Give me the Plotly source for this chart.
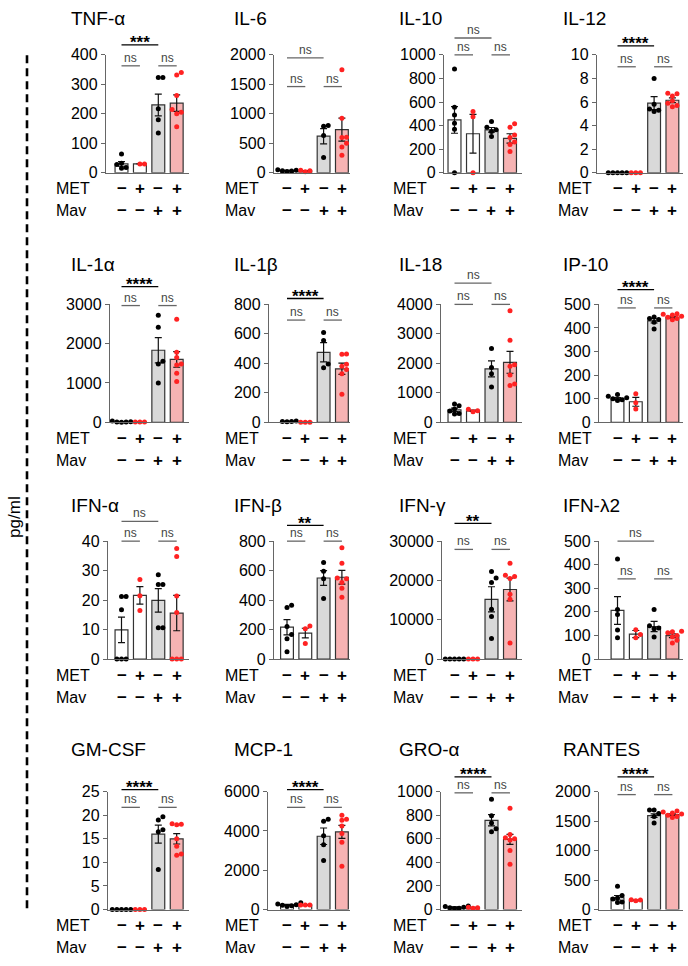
import plotly.graph_objects as go

# ---- data ----
cytokines = ["TNF-α", "IL-6", "IL-10", "IL-12",
             "IL-1α", "IL-1β", "IL-18", "IP-10",
             "IFN-α", "IFN-β", "IFN-γ", "IFN-λ2",
             "GM-CSF", "MCP-1", "GRO-α", "RANTES"]
y_max = [400, 2000, 1000, 10, 3000, 800, 4000, 500, 40, 800, 30000, 500, 25, 6000, 1000, 2000]
y_step = [100, 500, 200, 2, 1000, 200, 1000, 100, 10, 200, 10000, 100, 5, 2000, 200, 500]

# bar order: MET-/Mav-, MET+/Mav-, MET-/Mav+, MET+/Mav+
bar_means = [
    [30, 30, 230, 236], [35, 30, 620, 730], [448, 331, 364, 291], [0, 0, 5.9, 6.15],
    [12, 5, 1833, 1600], [5, 2, 475, 363], [422, 389, 1811, 2033], [101, 87, 430, 445],
    [9.9, 21.6, 19.9, 15.6], [216, 176, 550, 555], [50, 20, 15200, 17700], [206, 106, 138, 99],
    [0, 0, 16.0, 15.0], [240, 230, 3730, 3950], [20, 15, 757, 595], [200, 156, 1592, 1609],
]
bar_sem = [
    [8, 0, 37, 28], [5, 7, 130, 195], [113, 165, 20, 40], [0, 0, 0.55, 0.2],
    [5, 3, 320, 200], [1, 0, 65, 38], [60, 20, 270, 370], [4, 19, 9, 4],
    [4.3, 3.0, 4.0, 6.0], [52, 33, 50, 47], [10, 5, 3200, 2900], [59, 15, 22, 8],
    [0, 0, 1.9, 1.1], [30, 10, 420, 330], [3, 3, 48, 42], [38, 5, 30, 15],
]
dots_ctrl = [
    [64, 32, 28, 18, 15], [50, 42, 35, 28, 22], [880, 555, 490, 420, 370, 0], [0, 0, 0, 0, 0],
    [30, 15, 10, 5, 0], [8, 6, 5, 4], [620, 560, 450, 380, 300, 280], [118, 110, 104, 100, 96, 92],
    [21.2, 21.2, 16.7, 0, 0, 0], [350, 365, 221, 167, 138, 49], [0, 0, 0, 0, 0], [424, 210, 189, 123, 90],
    [0, 0, 0, 0, 0], [340, 280, 250, 220, 190, 160], [30, 25, 20, 15, 12, 8], [397, 240, 196, 180, 130, 120],
]
dots_met = [
    [30, 30], [15, 32, 42], [520, 475, 0], [0, 0, 0],
    [5, 5, 5], [0, 0, 0], [440, 390, 360], [121, 83, 56],
    [27, 21.5, 16.5], [225, 205, 105], [0, 0, 0], [124, 104, 90],
    [0, 0, 0], [230, 230, 230], [20, 15, 10], [165, 160, 150],
]
dots_mav = [
    [323, 323, 217, 180, 135], [800, 790, 630, 260], [434, 387, 364, 350, 308], [8.0, 5.8, 5.4, 5.3, 5.2],
    [2725, 2417, 1550, 1480, 1000], [610, 555, 395, 370], [2500, 1860, 1650, 1200], [446, 440, 436, 424, 396],
    [28.6, 25.3, 25.3, 10.6, 10.6], [655, 595, 544, 410], [22300, 20600, 19500, 12700, 10800, 5200],
    [210, 141, 132, 128, 93],
    [19.7, 19.0, 16.9, 16.5, 8.5], [4600, 4500, 3750, 3300, 2500], [935, 795, 735, 685, 660],
    [1690, 1690, 1630, 1580, 1470],
]
dots_met_mav = [
    [340, 332, 262, 215, 205, 200, 156], [1746, 926, 602, 600, 502, 435, 296],
    [415, 385, 320, 300, 260, 240, 180], [6.75, 6.7, 6.5, 6.1, 5.9, 5.7, 5.6],
    [2620, 1780, 1650, 1480, 1460, 1250, 1040], [464, 462, 393, 380, 359, 330, 191],
    [3780, 2780, 1950, 1900, 1600, 1300, 1250], [460, 458, 455, 450, 445, 440, 435],
    [37.5, 34.8, 21.4, 15.8, 0, 0, 0], [755, 650, 550, 545, 520, 480, 420],
    [24400, 21300, 21000, 20500, 16500, 15200, 4100], [118, 116, 112, 100, 95, 80, 68],
    [18.2, 18.1, 18.0, 15.0, 13.4, 11.8, 11.5], [4800, 4600, 4550, 4250, 3870, 3420, 2200],
    [860, 637, 610, 600, 590, 500, 385], [1670, 1655, 1640, 1620, 1600, 1580, 1560],
]
sig_1v3 = ["***", "ns", "ns", "****", "****", "****", "ns", "****",
           "ns", "**", "**", "ns", "****", "****", "****", "****"]
# bracket heights as fraction of the y axis
bracket_top = [1.084, 0.975, 1.143, 1.076, 1.15, 1.05, 1.18, 1.125,
               1.168, 1.134, 1.15, 1.0, 1.017, 1.017, 1.125, 1.125]
bracket_low = [0.907, 0.731, 1.0, 0.899, 0.99, 0.867, 1.0, 0.97,
               1.0, 1.0, 0.93, 0.68, 0.867, 0.867, 0.99, 0.975]
met_signs = ["−", "+", "−", "+"]
mav_signs = ["−", "−", "+", "+"]

# ---- layout (pixels) ----
W, H = 688, 966
PH = 120
row_top = [47.7, 301.7, 542.7, 797.7]
col_c0 = [121.5, 287, 454.5, 617.5]
col_pitch = [18.4, 18.3, 18.5, 18.3]
col_right = [188.5, 350, 521.5, 683]
axis_left = [106, 274, 444, 597, 110, 269, 441, 599, 108, 274, 442, 599, 108, 268, 441, 599]
label_left = [54, 222.5, 391.5, 555.5]
title_left = [69, 232, 397, 561]
title_y = [11, 261, 506, 755]

FONT = "Arial, Liberation Sans, sans-serif"
AXC = "#666666"
fills = ["white", "white", "#d9d9d9", "#f6b3b3"]
dot_cols = ["black", "#ff2222", "black", "#ff2222"]
D = 4.6  # dot spacing px


def swarm(vals, ymax, pitch):
    placed = []
    offs = [0.0] * len(vals)
    for k in sorted(range(len(vals)), key=lambda i: vals[i]):
        yp = vals[k] / ymax * PH
        j = 0
        while True:
            cand = 0 if j == 0 else ((j + 1) // 2) * D * (1 if j % 2 else -1)
            if all((cand - xo) ** 2 + (yp - yo) ** 2 >= (D * 0.98) ** 2 for xo, yo in placed):
                break
            j += 1
        placed.append((cand, yp))
        offs[k] = cand / pitch
    return offs


fig = go.Figure()
shapes = []
annotations = []
axes = {}

for n in range(16):
    r, c = divmod(n, 4)
    sfx = "" if n == 0 else str(n + 1)
    xa, ya = "x" + sfx, "y" + sfx
    c0, p = col_c0[c], col_pitch[c]
    x0 = -(c0 - axis_left[n]) / p
    x1 = 3 + (col_right[c] - (c0 + 3 * p)) / p
    ymx = y_max[n]

    axes["xaxis" + sfx] = dict(
        domain=[axis_left[n] / W, col_right[c] / W], range=[x0, x1], anchor=ya,
        showline=True, linecolor=AXC, linewidth=1.3, showticklabels=False,
        ticks="", showgrid=False, zeroline=False, fixedrange=True)
    axes["yaxis" + sfx] = dict(
        domain=[1 - (row_top[r] + PH) / H, 1 - row_top[r] / H], range=[0, ymx], anchor=xa,
        tickmode="linear", tick0=0, dtick=y_step[n], tickformat="d",
        showline=True, linecolor=AXC, linewidth=1.3, ticks="outside", ticklen=4,
        tickwidth=1.3, tickcolor=AXC, showgrid=False, zeroline=False,
        tickfont=dict(family=FONT, size=16, color="black"), fixedrange=True)

    fig.add_trace(go.Bar(
        x=[0, 1, 2, 3], y=bar_means[n], width=0.7, xaxis=xa, yaxis=ya,
        marker=dict(color=fills, line=dict(color="#333333", width=1.2)),
        error_y=dict(type="data", array=bar_sem[n], symmetric=True,
                     color="#111111", thickness=1.2, width=3.5),
        hoverinfo="skip"))

    groups = [dots_ctrl[n], dots_met[n], dots_mav[n], dots_met_mav[n]]
    for g, vals in enumerate(groups):
        offs = swarm(vals, ymx, p)
        fig.add_trace(go.Scatter(
            x=[g + o for o in offs], y=vals, mode="markers", xaxis=xa, yaxis=ya,
            cliponaxis=False, marker=dict(size=5, color=dot_cols[g]),
            hoverinfo="skip"))

    def xf(i):
        return (i - x0) / (x1 - x0)

    # significance brackets
    xd, yd = xa + " domain", ya + " domain"
    for (i0, i1, yy, lab) in [(0, 2, bracket_top[n], sig_1v3[n]),
                              (0, 1, bracket_low[n], "ns"),
                              (2, 3, bracket_low[n], "ns")]:
        is_ns = lab == "ns"
        shapes.append(dict(type="line", xref=xd, yref=yd, x0=xf(i0), x1=xf(i1),
                           y0=yy, y1=yy,
                           line=dict(color="#666666" if is_ns else "black", width=1.3)))
        annotations.append(dict(
            xref=xd, yref=yd, x=(xf(i0) + xf(i1)) / 2, y=yy,
            text=lab if is_ns else "<b>" + lab + "</b>",
            showarrow=False, xanchor="center", yanchor="middle",
            yshift=8 if is_ns else 2,
            font=dict(family=FONT, size=12 if is_ns else 17,
                      color="#444444" if is_ns else "black")))

    # treatment rows
    for i in range(4):
        for sign, shift in [(met_signs[i], -16), (mav_signs[i], -38)]:
            annotations.append(dict(
                xref=xd, yref=yd, x=xf(i), y=0, yshift=shift, text="<b>" + sign + "</b>",
                showarrow=False, xanchor="center", yanchor="middle",
                font=dict(family=FONT, size=17, color="black")))
    for name, shift in [("MET", -16), ("Mav", -38)]:
        annotations.append(dict(
            xref="paper", yref=yd, x=label_left[c] / W, y=0, yshift=shift, text=name,
            showarrow=False, xanchor="left", yanchor="middle",
            font=dict(family=FONT, size=16, color="black")))

    annotations.append(dict(
        xref="paper", yref="paper", x=title_left[c] / W, y=1 - title_y[r] / H,
        text=cytokines[n], showarrow=False, xanchor="left", yanchor="middle",
        font=dict(family=FONT, size=19, color="black")))

# dashed separator and y-axis unit
shapes.append(dict(type="line", xref="paper", yref="paper", x0=27 / W, x1=27 / W,
                   y0=1 - 48 / H, y1=1 - 920 / H,
                   line=dict(color="black", width=2.6, dash="8px,5px")))
annotations.append(dict(xref="paper", yref="paper", x=15 / W, y=1 - 518 / H,
                        text="pg/ml", textangle=-90, showarrow=False,
                        xanchor="center", yanchor="middle",
                        font=dict(family=FONT, size=17, color="black")))

fig.update_layout(
    width=W, height=H, autosize=False,
    margin=dict(l=0, r=0, t=0, b=0),
    paper_bgcolor="white", plot_bgcolor="white",
    showlegend=False, barmode="overlay",
    shapes=shapes, annotations=annotations, **axes)

# page body has a default 8px margin; drop it so the figure sits at the window origin
fig.write_html("out.html", config={"displayModeBar": False},
               post_script="document.body.style.margin='0';")
